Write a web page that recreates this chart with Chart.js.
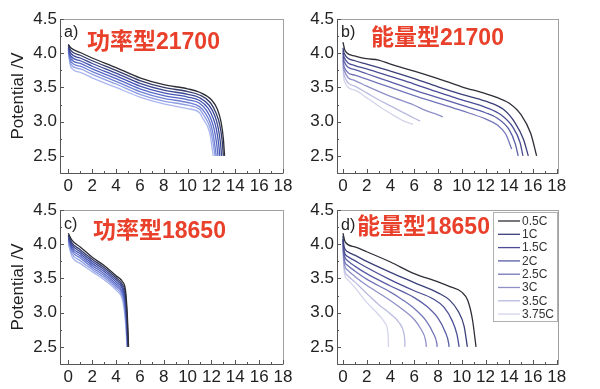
<!DOCTYPE html>
<html>
<head>
<meta charset="utf-8">
<script src="https://cdn.jsdelivr.net/npm/chart.js@4.4.1/dist/chart.umd.min.js"></script>
<style>
  body { margin: 0; background: #fff; }
  #wrap { position: relative; width: 600px; height: 389px; overflow: hidden; }
  canvas { position: absolute; }
</style>
</head>
<body>
<div id="wrap">
  <canvas id="chartA" width="300" height="195" style="left:0;top:0"></canvas>
  <canvas id="chartB" width="300" height="195" style="left:300px;top:0"></canvas>
  <canvas id="chartC" width="300" height="194" style="left:0;top:195px"></canvas>
  <canvas id="chartD" width="300" height="194" style="left:300px;top:195px"></canvas>
</div>
<script>
const rates = ['0.5C', '1C', '1.5C', '2C', '2.5C', '3C', '3.5C', '3.75C'];
const xTicks = [0, 2, 4, 6, 8, 10, 12, 14, 16, 18];
const yTicks = [2.5, 3.0, 3.5, 4.0, 4.5];

// a) power type 21700
const power21700 = [
  [[0,4.13],[0.2,4.08],[1,4.01],[2,3.93],[4,3.79],[6,3.64],[8,3.54],[10,3.48],[11,3.43],[12,3.32],[12.5,3.18],[12.8,3.0],[13.0,2.75],[13.1,2.5]],
  [[0,4.12],[0.2,4.04],[1,3.97],[2,3.89],[4,3.75],[6,3.60],[8,3.50],[10,3.44],[11,3.39],[11.9,3.28],[12.4,3.12],[12.7,2.95],[12.9,2.72],[13.0,2.5]],
  [[0,4.10],[0.2,4.00],[1,3.93],[2,3.85],[4,3.71],[6,3.56],[8,3.46],[10,3.40],[11,3.35],[11.8,3.24],[12.3,3.08],[12.55,2.92],[12.75,2.7],[12.85,2.5]],
  [[0,4.08],[0.2,3.96],[1,3.89],[2,3.81],[4,3.67],[6,3.52],[8,3.42],[10,3.36],[11,3.31],[11.7,3.20],[12.15,3.05],[12.4,2.9],[12.6,2.68],[12.7,2.5]],
  [[0,4.06],[0.2,3.92],[1,3.85],[2,3.77],[4,3.63],[6,3.48],[8,3.38],[10,3.32],[11,3.27],[11.6,3.16],[12.0,3.02],[12.25,2.87],[12.45,2.66],[12.55,2.5]],
  [[0,4.04],[0.2,3.88],[1,3.81],[2,3.73],[4,3.59],[6,3.44],[8,3.34],[10,3.28],[11,3.22],[11.5,3.12],[11.9,2.98],[12.1,2.85],[12.3,2.64],[12.4,2.5]],
  [[0,4.02],[0.2,3.84],[1,3.77],[2,3.69],[4,3.55],[6,3.40],[8,3.30],[10,3.24],[11,3.18],[11.4,3.08],[11.8,2.95],[12.0,2.82],[12.2,2.62],[12.3,2.5]],
  [[0,4.00],[0.2,3.80],[1,3.72],[2,3.64],[4,3.50],[6,3.36],[8,3.26],[10,3.19],[11,3.13],[11.3,3.04],[11.7,2.92],[11.9,2.8],[12.05,2.62],[12.15,2.5]]
];

// b) energy type 21700
const energy21700 = [
  [[0,4.16],[0.2,4.03],[1,3.96],[2,3.92],[3,3.90],[4,3.84],[6,3.74],[8,3.63],[10,3.51],[12,3.41],[13,3.35],[14,3.27],[15,3.10],[15.8,2.83],[16.3,2.5]],
  [[0,4.08],[0.1,4.00],[1,3.89],[2,3.84],[4,3.74],[6,3.63],[8,3.51],[10,3.40],[12,3.30],[13.5,3.18],[14.5,2.98],[15.2,2.74],[15.6,2.5]],
  [[0,4.04],[0.1,3.94],[1,3.82],[2,3.77],[4,3.66],[6,3.55],[8,3.43],[10,3.32],[12,3.21],[13.3,3.10],[14.3,2.92],[14.9,2.7],[15.15,2.5]],
  [[0,4.0],[0.1,3.88],[1,3.76],[2,3.70],[4,3.58],[6,3.46],[8,3.35],[10,3.24],[12,3.13],[13,3.05],[14,2.88],[14.5,2.68],[14.75,2.5]],
  [[0,3.95],[0.1,3.80],[1,3.68],[2,3.62],[4,3.50],[6,3.38],[8,3.27],[10,3.16],[12,3.04],[13,2.95],[13.7,2.82],[14.2,2.6]],
  [[0,3.9],[0.1,3.75],[1,3.60],[2,3.52],[4,3.37],[6,3.24],[7,3.16],[8,3.10],[8.4,3.07]],
  [[0,3.85],[0.1,3.68],[1,3.52],[2,3.42],[3,3.32],[4,3.23],[5,3.14],[6,3.05],[6.5,3.01]],
  [[0,3.8],[0.1,3.60],[1,3.46],[2,3.35],[3,3.23],[4,3.12],[5,3.02],[5.9,2.96]]
];

// c) power type 18650
const power18650 = [
  [[0,4.16],[0.3,4.06],[1,3.96],[2,3.81],[3,3.69],[4,3.54],[4.5,3.46],[4.8,3.32],[4.95,2.95],[5.05,2.5]],
  [[0,4.14],[0.3,4.02],[1,3.92],[2,3.78],[3,3.66],[4,3.51],[4.5,3.42],[4.78,3.28],[4.93,2.93],[5.03,2.5]],
  [[0,4.12],[0.3,3.99],[1,3.89],[2,3.75],[3,3.63],[4,3.48],[4.5,3.39],[4.76,3.24],[4.91,2.9],[5.01,2.5]],
  [[0,4.10],[0.3,3.96],[1,3.86],[2,3.72],[3,3.60],[4,3.45],[4.5,3.36],[4.74,3.21],[4.9,2.88],[5.0,2.5]],
  [[0,4.08],[0.3,3.93],[1,3.83],[2,3.69],[3,3.57],[4,3.42],[4.5,3.32],[4.72,3.18],[4.88,2.86],[4.98,2.5]],
  [[0,4.06],[0.3,3.90],[1,3.80],[2,3.66],[3,3.54],[4,3.39],[4.5,3.29],[4.7,3.15],[4.86,2.84],[4.96,2.5]],
  [[0,4.03],[0.3,3.86],[1,3.76],[2,3.63],[3,3.51],[4,3.36],[4.5,3.25],[4.68,3.11],[4.84,2.82],[4.94,2.5]],
  [[0,4.00],[0.3,3.82],[1,3.72],[2,3.60],[3,3.48],[4,3.33],[4.5,3.21],[4.66,3.07],[4.82,2.8],[4.92,2.5]]
];

// d) energy type 18650
const energy18650 = [
  [[0,4.16],[0.2,4.03],[1,3.96],[2,3.89],[4,3.74],[6,3.57],[8,3.45],[9,3.38],[10,3.30],[10.5,3.18],[10.9,2.9],[11.2,2.5]],
  [[0,4.12],[0.1,3.96],[0.4,3.89],[1,3.84],[2,3.75],[4,3.59],[6,3.44],[8,3.29],[9,3.18],[9.7,3.02],[10.2,2.8],[10.47,2.5]],
  [[0,4.08],[0.1,3.90],[0.4,3.82],[1,3.76],[2,3.66],[4,3.48],[6,3.32],[7.6,3.20],[8.5,3.08],[9.2,2.88],[9.6,2.68],[9.78,2.5]],
  [[0,4.06],[0.1,3.85],[0.4,3.76],[1,3.68],[2,3.57],[4,3.39],[6,3.22],[7,3.10],[8,2.92],[8.6,2.72],[8.9,2.55],[8.93,2.5]],
  [[0,4.03],[0.1,3.79],[0.4,3.69],[1,3.61],[2,3.49],[4,3.30],[5,3.19],[6,3.06],[7,2.88],[7.6,2.7],[7.9,2.55],[7.93,2.5]],
  [[0,4.00],[0.1,3.73],[0.4,3.62],[1,3.53],[2,3.40],[3.8,3.20],[5,3.05],[6,2.9],[6.6,2.75],[6.95,2.6],[7.03,2.5]],
  [[0,3.98],[0.1,3.66],[0.4,3.54],[1,3.45],[2,3.28],[3,3.12],[4,2.98],[4.7,2.86],[5.1,2.72],[5.2,2.6],[5.22,2.5]],
  [[0,3.95],[0.1,3.60],[0.4,3.48],[1,3.37],[2,3.15],[3,2.97],[3.5,2.86],[3.75,2.75],[3.82,2.6],[3.83,2.5]]
];

const powerColors = ['#2c2c36', '#363c6c', '#3c4894', '#4455b2', '#5566c4', '#6e7fd4', '#8e9ee2', '#aab6ee'];
const energyColors = ['#2e2e38', '#3b3f7a', '#4a4d95', '#5a5ea6', '#7275b8', '#8e90c8', '#b8badf', '#d3d4ec'];

const FONT = '"Liberation Sans", Arial, sans-serif';

// frame, inward ticks, panel labels and legend
const panelPlugin = {
  id: 'panel',
  afterDraw(chart, args, opts) {
    const { ctx, chartArea: a, scales: { x, y } } = chart;
    ctx.save();
    ctx.lineWidth = 1;
    ctx.strokeStyle = '#a0a0a0';
    ctx.strokeRect(a.left + 0.5, a.top + 0.5, a.right - a.left, a.bottom - a.top);
    ctx.strokeStyle = '#555';
    ctx.beginPath();
    ctx.moveTo(a.left + 0.5, a.top);
    ctx.lineTo(a.left + 0.5, a.bottom + 0.5);
    ctx.lineTo(a.right, a.bottom + 0.5);
    xTicks.forEach((v, i) => {
      const px = Math.round(x.getPixelForValue(v)) + 0.5;
      ctx.moveTo(px, a.bottom); ctx.lineTo(px, a.bottom - 4);
      if (i < xTicks.length - 1) {
        const pm = Math.round(x.getPixelForValue((v + xTicks[i + 1]) / 2)) + 0.5;
        ctx.moveTo(pm, a.bottom); ctx.lineTo(pm, a.bottom - 2);
      }
    });
    yTicks.forEach((v, i) => {
      const py = Math.round(y.getPixelForValue(v)) + 0.5;
      ctx.moveTo(a.left, py); ctx.lineTo(a.left + 4, py);
      if (i < yTicks.length - 1) {
        const pm = Math.round(y.getPixelForValue((v + yTicks[i + 1]) / 2)) + 0.5;
        ctx.moveTo(a.left, pm); ctx.lineTo(a.left + 2, pm);
      }
    });
    ctx.stroke();

    ctx.textBaseline = 'middle';
    ctx.textAlign = 'left';
    ctx.fillStyle = '#222';
    ctx.font = '16px ' + FONT;
    ctx.fillText(opts.tag, opts.tagX, opts.tagY);
    ctx.fillStyle = '#e8402a';
    ctx.font = 'bold 23px ' + FONT + ', "Noto Sans CJK SC"';
    ctx.fillText(opts.title, opts.titleX, opts.titleY);

    if (opts.legend) {
      const L = opts.legend;
      ctx.fillStyle = '#fff';
      ctx.fillRect(L.x, L.y, L.w, L.h);
      ctx.strokeStyle = '#b0b0b0';
      ctx.strokeRect(L.x + 0.5, L.y + 0.5, L.w, L.h);
      ctx.font = '12px ' + FONT;
      chart.data.datasets.forEach((ds, i) => {
        const yy = L.y + 9 + i * 13.3;
        ctx.strokeStyle = ds.borderColor;
        ctx.lineWidth = 1.3;
        ctx.beginPath();
        ctx.moveTo(L.x + 5, yy); ctx.lineTo(L.x + 27, yy);
        ctx.stroke();
        ctx.fillStyle = '#333';
        ctx.fillText(ds.label, L.x + 29, yy + 0.5);
      });
    }
    ctx.restore();
  }
};

function makeChart(id, series, colors, o) {
  const datasets = series.map((pts, i) => ({
    label: rates[i],
    data: pts,
    borderColor: colors[i],
    borderWidth: 1.3,
    pointRadius: 0,
    fill: false,
    cubicInterpolationMode: 'monotone'
  }));
  return new Chart(document.getElementById(id), {
    type: 'line',
    data: { datasets },
    options: {
      responsive: false,
      animation: false,
      layout: { padding: { top: o.padTop, right: o.padRight, left: 0, bottom: 0 } },
      plugins: {
        legend: { display: false },
        tooltip: { enabled: false },
        panel: o.panel
      },
      scales: {
        x: {
          type: 'linear',
          min: o.xMin,
          max: o.xMax,
          grid: { display: false, drawTicks: false },
          border: { display: false },
          afterFit: s => { s.height = o.xHeight; },
          afterBuildTicks: s => { s.ticks = xTicks.map(v => ({ value: v })); },
          ticks: { color: '#222', font: { family: FONT, size: 17 }, padding: 3, maxRotation: 0 }
        },
        y: {
          min: 2.25,
          max: 4.5,
          grid: { display: false, drawTicks: false },
          border: { display: false },
          afterFit: s => { s.width = o.yWidth; },
          afterBuildTicks: s => { s.ticks = yTicks.map(v => ({ value: v })); },
          ticks: { color: '#222', font: { family: FONT, size: 17 }, padding: 3, callback: v => Number(v).toFixed(1) },
          title: {
            display: o.yTitle,
            text: 'Potential /V',
            color: '#222',
            font: { family: FONT, size: 17 },
            padding: { top: 8, bottom: 0 }
          }
        }
      }
    },
    plugins: [panelPlugin]
  });
}

makeChart('chartA', power21700, powerColors, {
  padTop: 19, padRight: 17, xHeight: 22, yWidth: 60, xMin: -0.7, xMax: 18, yTitle: true,
  panel: { tag: 'a)', tagX: 64, tagY: 33, title: '功率型21700', titleX: 87, titleY: 43 }
});
makeChart('chartB', energy21700, energyColors, {
  padTop: 19, padRight: 42, xHeight: 22, yWidth: 37, xMin: -0.5, xMax: 18.1, yTitle: false,
  panel: { tag: 'b)', tagX: 41, tagY: 33, title: '能量型21700', titleX: 71, titleY: 39 }
});
makeChart('chartC', power18650, powerColors, {
  padTop: 15, padRight: 17, xHeight: 25, yWidth: 60, xMin: -0.7, xMax: 18, yTitle: true,
  panel: { tag: 'c)', tagX: 64, tagY: 30, title: '功率型18650', titleX: 93, titleY: 37 }
});
makeChart('chartD', energy18650, energyColors, {
  padTop: 15, padRight: 42, xHeight: 25, yWidth: 37, xMin: -0.5, xMax: 18.1, yTitle: false,
  panel: { tag: 'd)', tagX: 41, tagY: 31, title: '能量型18650', titleX: 57, titleY: 33,
    legend: { x: 193, y: 17, w: 64, h: 109 } }
});
</script>
</body>
</html>
